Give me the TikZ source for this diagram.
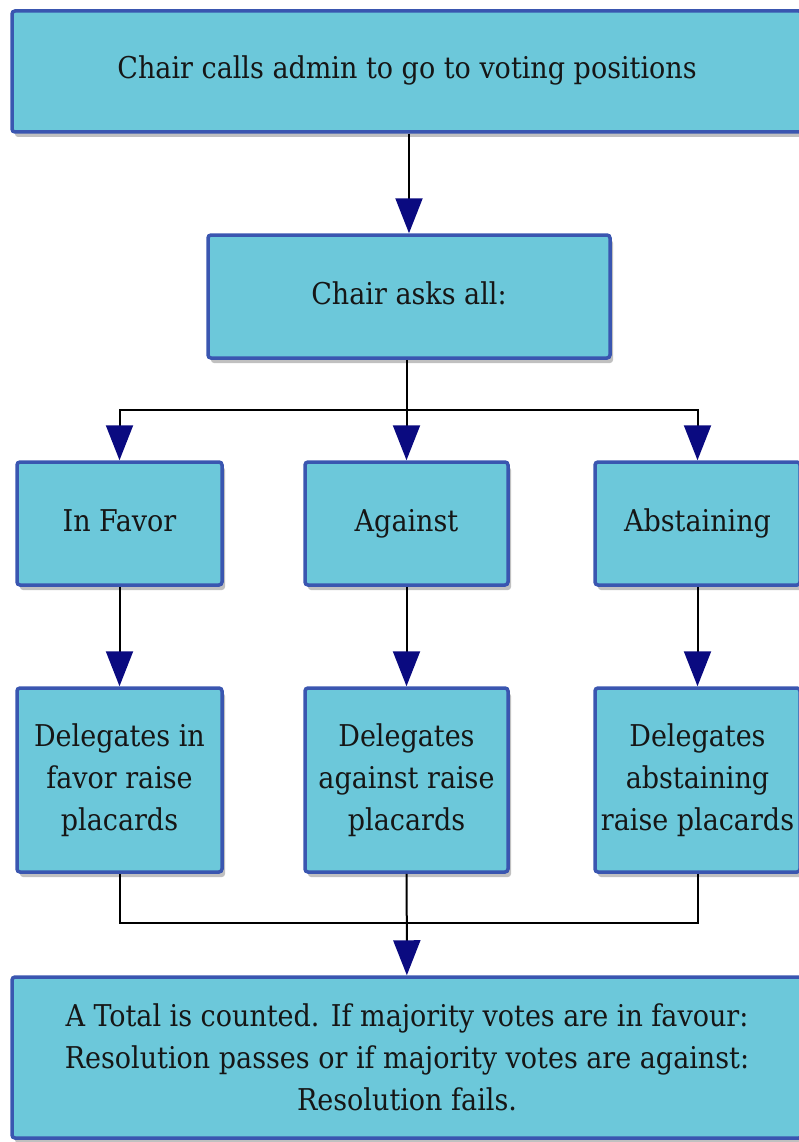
\documentclass[tikz,border=0pt]{standalone}
\usepackage{fontspec}
\setmainfont{DejaVu Serif Condensed}
\usetikzlibrary{arrows.meta,shadows}
\definecolor{boxfill}{HTML}{6CC8DA}
\definecolor{boxline}{HTML}{3A56B0}
\definecolor{tipnavy}{HTML}{0A0A80}
\definecolor{inktext}{HTML}{161616}
\begin{document}
\begin{tikzpicture}[x=1pt,y=-1pt,
  stepbox/.style={draw=boxline, line width=3.5pt, fill=boxfill, rounded corners=3pt,
    inner sep=0pt, align=center, text=inktext,
    font=\fontsize{30}{42}\selectfont,
    drop shadow={shadow xshift=3pt, shadow yshift=-5pt, opacity=0.45, fill=black!55}},
  oneline/.style={text height=22pt, text depth=7pt},
  arr/.style={draw=black, line width=2pt,
    -{Triangle[length=35pt,width=27pt,fill=tipnavy,color=tipnavy]}},
  link/.style={draw=black, line width=2pt}]
\useasboundingbox (0,0) rectangle (798,1142);

% boxes
\node[stepbox, oneline, minimum width=790pt, minimum height=121pt] (call) at (407,71.5)
  {Chair calls admin to go to voting positions};
\node[stepbox, oneline, minimum width=402pt, minimum height=123pt] (ask) at (409,296.5)
  {Chair asks all:};

\node[stepbox, oneline, minimum width=205pt, minimum height=123pt] (favor) at (119.5,523.5) {In Favor};
\node[stepbox, oneline, minimum width=203pt, minimum height=123pt] (against) at (406.5,523.5) {Against};
\node[stepbox, oneline, minimum width=205pt, minimum height=123pt] (abst) at (697.5,523.5) {Abstaining};

\node[stepbox, minimum width=205pt, minimum height=184pt] (dfavor) at (119.5,780)
  {Delegates in\\favor raise\\placards};
\node[stepbox, minimum width=203pt, minimum height=184pt] (dagainst) at (406.5,780)
  {Delegates\\against raise\\placards};
\node[stepbox, minimum width=205pt, minimum height=184pt] (dabst) at (697.5,780)
  {Delegates\\abstaining\\raise placards};

\node[stepbox, minimum width=790pt, minimum height=161pt] (result) at (407,1057.5)
  {A Total is counted. If majority votes are in favour:\\
   Resolution passes or if majority votes are against:\\
   Resolution fails.};

% connectors
\coordinate (split) at (406.5,410);
\coordinate (merge) at (406.5,923);

\draw[arr] (call.south -| ask.north) -- (ask.north);
\draw[arr] (ask.south -| against.north) -- (against.north);
\draw[arr] (split) -| (favor.north);
\draw[arr] (split) -| (abst.north);

\draw[arr] (favor) -- (dfavor);
\draw[arr] (against) -- (dagainst);
\draw[arr] (abst) -- (dabst);

\draw[link] (dfavor.south) |- (merge);
\draw[link] (dabst.south) |- (merge);
\draw[arr] (dagainst) -- (result);
\end{tikzpicture}
\end{document}
